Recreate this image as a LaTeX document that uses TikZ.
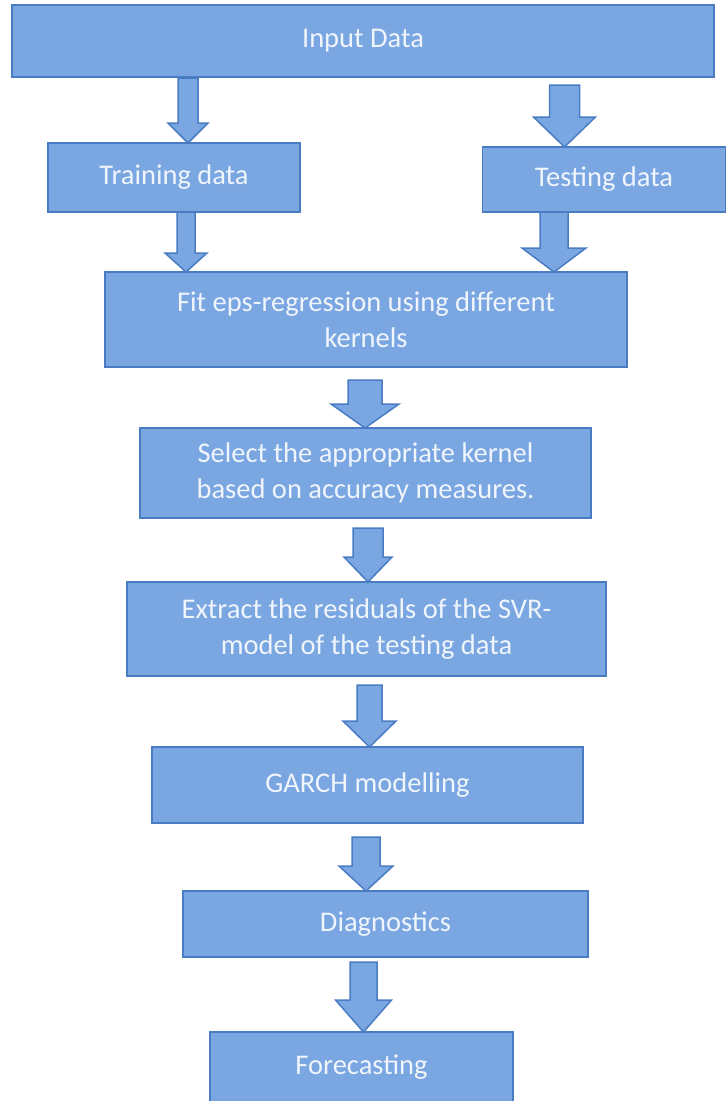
\documentclass[tikz,border=0pt]{standalone}
\usepackage{fontspec}
\setmainfont{Carlito}
\usetikzlibrary{calc}
\definecolor{boxfill}{RGB}{122,166,226}
\definecolor{boxline}{RGB}{74,124,196}
\definecolor{boxtext}{RGB}{240,245,252}
\tikzset{
  stepbox/.style={draw=boxline, line width=1.8pt, fill=boxfill, text=boxtext,
    inner sep=0pt, outer sep=0pt, align=center,
    font=\fontsize{28.5}{36.5}\selectfont},
  barrow/.style={draw=boxline, line width=1.5pt, fill=boxfill, line join=miter}
}
% #1 from node, #2 to node, #3 x (px), #4 shaft half width, #5 head half width,
% #6 head length, #7 gap below the source box
\newcommand\blockarrow[7]{%
  \draw[barrow] let \p1=(#1.south), \p2=(#2.north) in
    (#3pt-#4pt,\y1-#7pt) -- (#3pt+#4pt,\y1-#7pt) -- (#3pt+#4pt,\y2+#6pt) -- (#3pt+#5pt,\y2+#6pt)
    -- (#3pt,\y2) -- (#3pt-#5pt,\y2+#6pt) -- (#3pt-#4pt,\y2+#6pt) -- cycle;}
\begin{document}
\begin{tikzpicture}[x=1pt,y=-1pt]
\useasboundingbox[fill=white] (0,0) rectangle (727,1101);

\node[stepbox, minimum width=702pt, minimum height=72pt] (input) at (363,41) {Input Data};
\node[stepbox, minimum width=252pt, minimum height=69pt] (train) at (174,177.5) {Training data};
\node[stepbox, minimum width=243pt, minimum height=65pt] (test) at (604,179.5) {Testing data};
\node[stepbox, minimum width=522pt, minimum height=95pt] (fit) at (366,319.5) {Fit eps-regression using different\\kernels};
\node[stepbox, minimum width=451pt, minimum height=90pt] (select) at (365.5,473) {Select the appropriate kernel\\based on accuracy measures.};
\node[stepbox, minimum width=479pt, minimum height=94pt] (extract) at (366.5,629) {Extract the residuals of the SVR-\\model of the testing data};
\node[stepbox, minimum width=431pt, minimum height=76pt] (garch) at (367.5,785) {GARCH modelling};
\node[stepbox, minimum width=405pt, minimum height=66pt] (diag) at (385.5,924) {Diagnostics};
\node[stepbox, minimum width=303pt, minimum height=70pt] (fore) at (361.5,1067) {Forecasting};

\blockarrow{input}{train}{188}{10}{20}{20}{1}
\blockarrow{train}{fit}{186}{9}{21}{19}{0}
\blockarrow{input}{test}{564.5}{15}{31}{30}{8}
\blockarrow{test}{fit}{554}{14}{32}{24}{0}
\blockarrow{fit}{select}{365}{17}{34}{24}{13}
\blockarrow{select}{extract}{368}{15}{24}{25}{10}
\blockarrow{extract}{garch}{369.5}{12.5}{26.5}{26}{9}
\blockarrow{garch}{diag}{366}{14}{27}{25}{14}
\blockarrow{diag}{fore}{363.5}{13.5}{28}{32}{5}
\end{tikzpicture}
\end{document}
